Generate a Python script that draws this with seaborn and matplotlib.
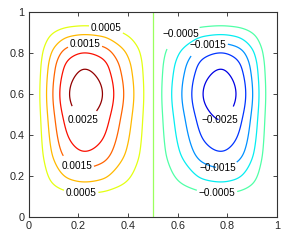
import numpy as np
import matplotlib
matplotlib.use("Agg")
import matplotlib.pyplot as plt
import seaborn as sns

# left cell, profile across x (at y ~ 0.6)
x_pts = [0.0, 0.048, 0.072, 0.098, 0.125, 0.163, 0.225, 0.30, 0.343, 0.383, 0.424, 0.464, 0.5]
x_val = [0.01, 0.179, 0.357, 0.536, 0.714, 0.893, 1.0, 0.893, 0.714, 0.536, 0.357, 0.179, 0.0]
# profile across y (at x ~ 0.22)
y_pts = [0.0, 0.117, 0.17, 0.24, 0.318, 0.47, 0.6, 0.725, 0.803, 0.847, 0.891, 0.932, 1.0]
y_val = [0.01, 0.179, 0.357, 0.536, 0.714, 0.893, 1.0, 0.893, 0.714, 0.536, 0.357, 0.179, 0.01]
peak = 0.0028

plain_levels = [-0.002, -0.001, 0.0, 0.001, 0.002]
label_levels = [-0.0025, -0.0015, -0.0005, 0.0005, 0.0015, 0.0025]
label_pos = [(0.31, 0.905), (0.227, 0.84), (0.211, 0.45), (0.196, 0.254), (0.211, 0.108),
             (0.621, 0.872), (0.724, 0.823), (0.763, 0.44), (0.761, 0.245), (0.758, 0.111)]


def pchip(xk, yk, x):
    xk = np.asarray(xk, float)
    yk = np.asarray(yk, float)
    h = np.diff(xk)
    d = np.diff(yk) / h
    m = np.zeros_like(yk)
    m[0], m[-1] = d[0], d[-1]
    for k in range(1, len(xk) - 1):
        if d[k - 1] * d[k] > 0:
            w1 = 2 * h[k] + h[k - 1]
            w2 = h[k] + 2 * h[k - 1]
            m[k] = (w1 + w2) / (w1 / d[k - 1] + w2 / d[k])
    i = np.clip(np.searchsorted(xk, x) - 1, 0, len(xk) - 2)
    t = (x - xk[i]) / h[i]
    h00 = 2 * t**3 - 3 * t**2 + 1
    h10 = t**3 - 2 * t**2 + t
    h01 = -2 * t**3 + 3 * t**2
    h11 = t**3 - t**2
    return h00 * yk[i] + h10 * h[i] * m[i] + h01 * yk[i + 1] + h11 * h[i] * m[i + 1]


def smooth(v, s=5):
    k = np.exp(-0.5 * (np.arange(-3 * s, 3 * s + 1) / s) ** 2)
    k /= k.sum()
    return np.convolve(np.pad(v, 3 * s, mode="edge"), k, mode="valid")


xs = np.linspace(0, 1, 400)
ys = np.linspace(0, 1, 400)
fx = np.where(xs <= 0.5, pchip(x_pts, x_val, xs), -pchip(x_pts, x_val, 1 - xs))
gy = pchip(y_pts, y_val, ys)
Z = peak * np.outer(smooth(gy), smooth(fx))

sns.set_style("ticks")
plt.rcParams["font.family"] = ["Liberation Sans", "DejaVu Sans"]

fig = plt.figure(figsize=(2.91, 2.42), dpi=100)
ax = fig.add_axes([0.098, 0.103, 0.854, 0.847])
style = dict(cmap="jet", vmin=-0.003, vmax=0.0026, linewidths=0.9)
ax.contour(xs, ys, Z, levels=plain_levels, **style)
cs = ax.contour(xs, ys, Z, levels=label_levels, **style)
fmt = lambda v: f"{v:g}".replace("-", "\u2212")
texts = ax.clabel(cs, manual=label_pos, fmt=fmt, fontsize=7.2,
                  colors="k", inline=True, inline_spacing=2)
for t in texts:
    t.set_rotation(0)

ax.set_xlim(0, 1)
ax.set_ylim(0, 1)
ticks = [0, 0.2, 0.4, 0.6, 0.8, 1]
ax.set_xticks(ticks)
ax.set_yticks(ticks)
ax.set_xticklabels(["0", "0.2", "0.4", "0.6", "0.8", "1"])
ax.set_yticklabels(["0", "0.2", "0.4", "0.6", "0.8", "1"])
ax.tick_params(direction="in", top=True, right=True, length=3, width=0.6,
               labelsize=7.8, pad=3)
for s in ax.spines.values():
    s.set_linewidth(0.8)
    s.set_color("#333333")

fig.savefig("out.png", dpi=100)
